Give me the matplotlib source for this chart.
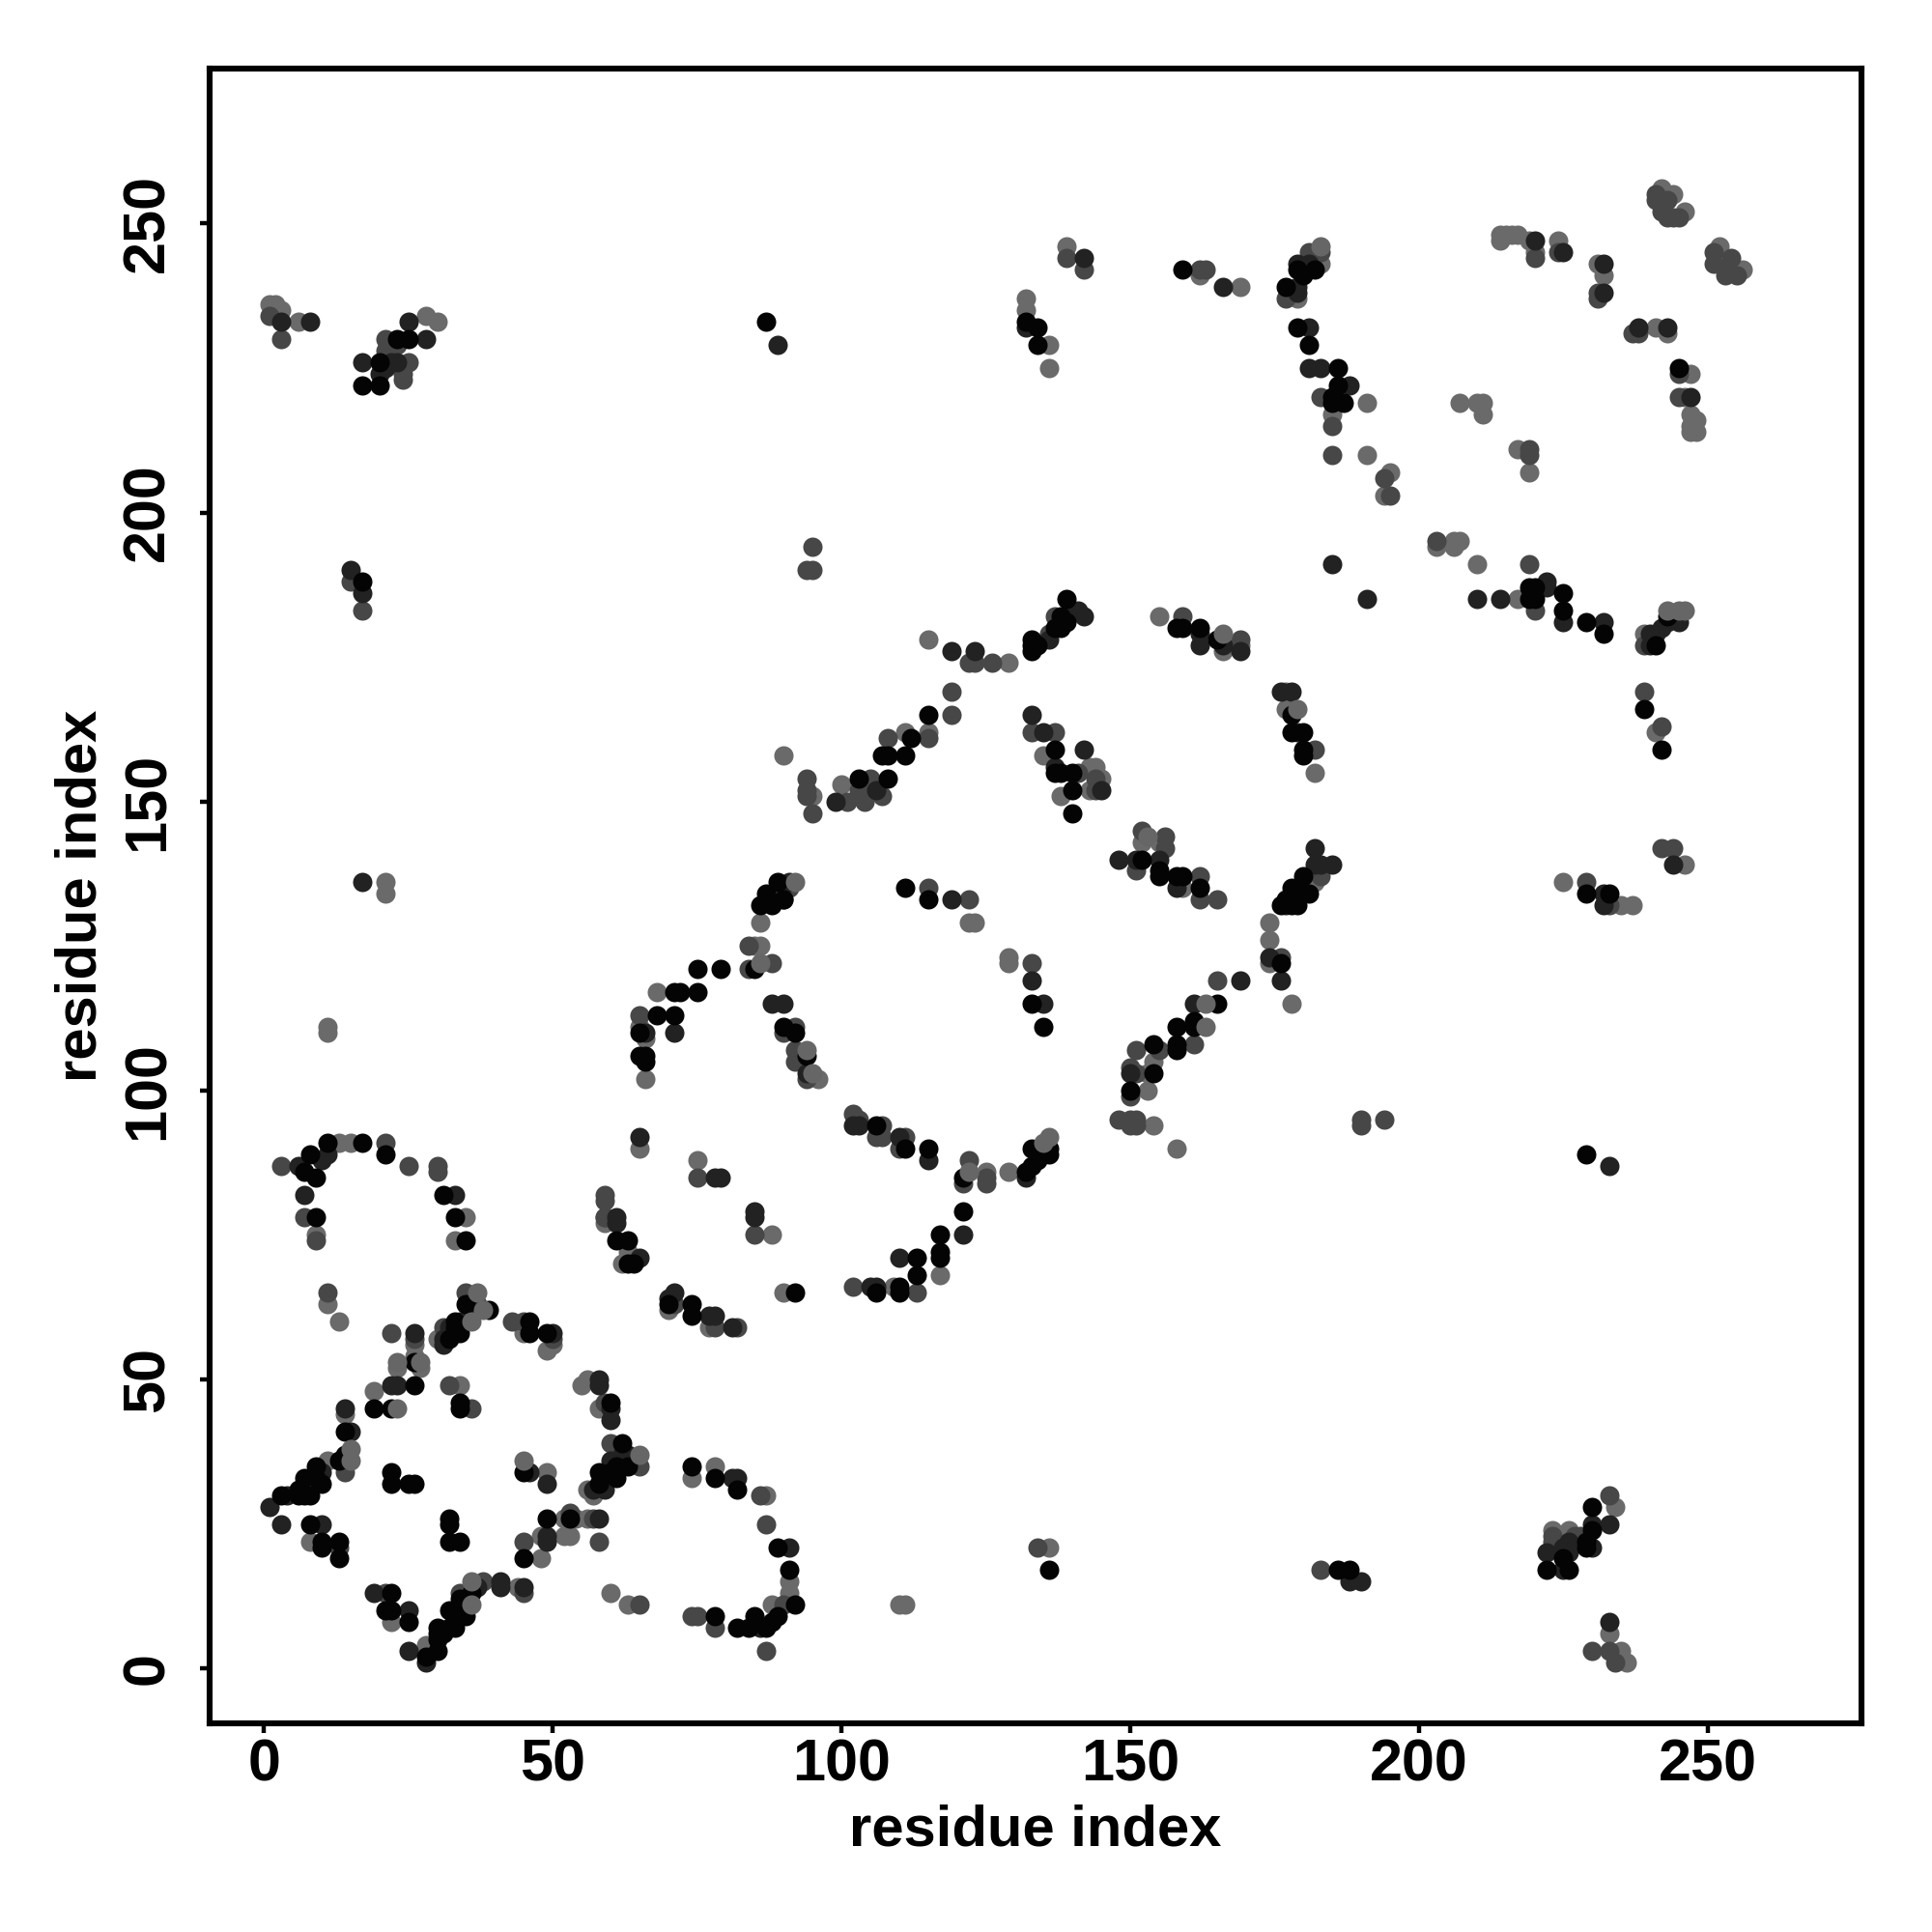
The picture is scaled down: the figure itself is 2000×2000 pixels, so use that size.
import numpy as np
import matplotlib
matplotlib.use('Agg')
import matplotlib.pyplot as plt

# contact pairs (residue i, residue j), grouped by how dark the dot is
light_pts = [(9,75),(35,78),(33,74),(59,77),(63,72),(62,70),(11,63),(13,60),(26,56),(26,54),(23,52),(27,52),(30,57),
    (45,58),(50,56),(49,55),(55,49),(56,50),(58,45),(57,30),(56,31),(11,36),(14,44),(19,48),(34,49),(49,34),(52,26),
    (54,26),(56,26),(48,23),(52,23),(53,23),(48,19),(8,22),(22,8),(28,4),(44,14),(60,13),(63,11),
    (86,129),(85,125),(86,125),(68,117),(65,111),(66,109),(66,102),(96,102),(122,129),(123,129),(129,123),(129,122),
    (65,90),(75,88),(88,75),(70,62),(77,59),(90,65),(109,66),(117,68),(125,86),(129,86),
    (155,182),(166,176),(169,177),(177,169),(177,166),(144,156),(143,152),(152,143),(155,143),(159,135),(174,129),
    (174,126),(174,122),(178,115),(182,155),(182,136),(153,103),(153,100),(154,94),(158,90),(154,105),
    (90,158),(100,153),(111,162),(115,162),(115,178),(129,174),(135,158),(138,151),(143,156),(145,154),(95,151),
    (179,237),(183,243),(185,217),(191,219),(191,210),(207,219),(210,219),(211,219),(211,217),(194,203),(195,207),
    (217,211),(219,207),(203,194),(206,195),(207,195),(206,194),(210,191),(217,185),(239,179),(214,248),(215,248),
    (214,247),(216,248),(217,248),(219,247),(220,245),(224,247),(231,243),(232,241),(241,232),(243,231),(247,224),
    (246,220),(247,217),(248,216),(247,215),(248,214),(247,214),(252,246),(242,256),(243,255),(244,255),(246,252),(256,242),
    (1,236),(2,236),(3,235),(6,233),(28,234),(30,233),(21,136),(21,134),(11,111),(11,110),(13,91),(15,91),(225,136),
    (235,132),(237,132),(246,139),(241,162),(162,241),(169,239),(139,246),(132,237),(132,235),(136,229),(136,225),
    (223,24),(226,24),(234,28),(233,6),(235,3),(236,1),(136,21),(110,11),(111,11),(74,33),(78,35),(87,30),(91,15),(91,13),(88,11)]

mid_pts = [(7,78),(9,74),(59,78),(11,65),(22,58),(26,57),(31,59),(35,65),(37,63),(43,60),(45,60),(50,57),(59,46),(60,39),
    (65,35),(14,34),(32,49),(36,45),(58,22),(53,27),(57,26),(45,22),(21,13),(45,13),(34,13),(33,9),(38,15),(13,21),(65,11),
    (89,133),(91,135),(84,125),(84,121),(65,113),(92,111),(90,110),(92,107),(92,105),(94,102),(115,135),(122,133),(133,122),
    (75,85),(59,82),(59,81),(59,78),(85,75),(71,63),(78,59),(82,59),(102,66),(113,65),(102,96),(103,95),(107,94),(106,92),
    (107,92),(111,92),(110,90),(122,88),(121,84),(125,85),(125,84),(135,89),(88,122),
    (159,182),(169,178),(152,145),(156,144),(156,142),(151,138),(162,137),(162,133),(165,133),(183,138),(183,137),(182,159),
    (176,123),(165,119),(161,108),(151,107),(155,107),(150,104),(151,103),(150,99),(148,95),(150,95),(151,95),(150,94),(151,94),
    (136,179),(137,182),(133,162),(137,162),(94,154),(94,151),(95,148),(101,150),(104,150),(105,154),(107,151),(108,161),
    (115,161),(119,165),(119,169),(122,174),(123,174),(126,174),(141,155),(144,152),(144,154),(103,152),(94,152),
    (183,245),(181,245),(177,237),(183,220),(185,215),(185,210),(194,206),(195,203),(219,210),(219,211),(203,195),(219,191),
    (220,183),(239,177),(241,255),(241,254),(243,254),(243,251),(244,251),(245,251),(242,252),(251,245),(251,243),(254,244),
    (253,242),(253,241),(255,241),(220,244),(224,245),(231,238),(231,237),(237,231),(238,231),(245,224),(245,220),
    (1,234),(3,230),(21,230),(21,227),(23,229),(24,223),(21,228),(22,229),(25,226),(24,224),(15,188),(17,183),(3,87),(21,91),
    (25,87),(30,87),(30,86),(190,95),(190,94),(194,95),(229,136),(233,132),(242,142),(244,142),(239,169),(242,163),(162,242),
    (163,242),(139,244),(142,242),(95,194),(94,190),(95,190),(223,23),(228,23),(223,22),(227,23),(233,30),(230,3),(233,3),(234,1),
    (183,17),(134,21),(86,30),(87,25),(87,3),(90,11),(78,7),(74,9),(75,9)]

dark_pts = [(61,78),(61,77),(65,71),(26,58),(31,57),(31,56),(32,59),(36,63),(34,60),(50,58),(58,50),(58,49),(60,43),(60,45),
    (63,37),(62,37),(60,36),(59,33),(59,31),(57,31),(1,28),(4,30),(3,25),(10,34),(15,41),(14,45),(22,49),(23,49),(46,34),
    (58,26),(49,23),(49,22),(10,25),(19,13),(25,10),(25,3),(28,1),(41,15),(41,14),(45,14),(37,14),(49,32),
    (91,136),(90,133),(71,110),(66,110),(88,115),(90,115),(94,103),(119,133),(133,119),(135,115),(65,92),(78,85),(79,85),
    (85,79),(85,78),(71,65),(70,64),(77,61),(78,61),(81,59),(105,66),(106,66),(110,71),(121,75),(102,94),(103,94),(110,92),
    (115,88),(132,85),
    (162,179),(162,177),(166,177),(169,176),(176,169),(178,169),(179,162),(142,159),(145,152),(148,140),(151,140),(155,140),
    (158,135),(182,142),(185,139),(183,139),(182,139),(178,133),(177,132),(174,123),(176,119),(169,119),(161,115),(150,103),
    (133,165),(135,162),(136,178),(140,183),(141,183),(142,182),(137,156),(99,150),(119,176),(123,176),(106,152),
    (181,243),(179,243),(179,239),(179,238),(181,232),(181,225),(183,225),(188,222),(185,191),(191,185),(210,185),(214,185),
    (222,188),(222,187),(225,181),(232,181),(240,179),(241,179),(240,177),(242,180),(243,181),(245,181),(220,247),(225,245),
    (232,243),(232,238),(238,232),(243,232),(247,220),
    (17,226),(23,226),(28,230),(25,233),(3,233),(8,233),(20,224),(21,225),(22,226),(15,190),(17,186),(17,136),(6,87),(10,88),
    (11,89),(33,82),(233,87),(232,134),(232,132),(244,139),(166,239),(142,244),(132,232),(89,229),(222,20),(225,17),(226,20),
    (225,21),(226,22),(230,25),(230,21),(233,25),(233,8),(188,15),(190,15),(81,33),(82,33),(86,7),(91,21),(7,82)]

black_pts = [(9,78),(33,78),(35,74),(61,74),(63,74),(63,70),(64,70),(26,53),(32,57),(33,60),(33,59),(34,58),(35,63),(39,62),
    (46,60),(46,58),(49,58),(60,46),(62,39),(63,35),(61,35),(60,34),(61,33),(58,34),(58,32),(3,30),(6,30),(7,30),(8,30),(7,33),
    (6,31),(9,35),(9,33),(10,32),(13,36),(14,37),(14,41),(19,45),(26,49),(22,45),(34,46),(34,45),(22,34),(22,32),(25,32),(26,32),
    (45,34),(49,26),(53,26),(45,19),(32,26),(32,25),(32,22),(34,22),(8,25),(10,22),(10,21),(13,22),(13,19),(22,13),(21,10),(22,10),
    (25,8),(28,2),(30,3),(30,5),(30,7),(30,6),(31,6),(32,7),(32,10),(33,7),(35,9),(34,10),(34,12),(36,13),
    (89,136),(90,133),(87,134),(86,132),(88,132),(85,121),(75,121),(79,121),(71,117),(72,117),(75,117),(68,113),(71,113),(65,110),
    (65,106),(66,106),(66,105),(90,111),(92,110),(94,106),(111,135),(115,133),(133,115),(135,111),(74,63),(74,61),(70,63),(92,65),
    (106,65),(110,66),(110,65),(113,71),(113,68),(117,75),(117,72),(117,71),(121,79),(106,94),(111,90),(115,90),(121,85),(132,86),
    (133,87),(133,90),(134,88),(136,90),(136,89),
    (158,180),(159,180),(162,180),(165,178),(178,165),(178,162),(180,162),(180,159),(180,158),(140,152),(138,155),(152,140),(155,138),
    (155,137),(158,137),(159,137),(162,135),(180,137),(179,135),(181,134),(178,135),(179,132),(177,133),(176,132),(178,132),(180,134),
    (176,122),(165,115),(161,112),(158,111),(161,111),(158,108),(158,107),(154,108),(154,103),(150,100),
    (133,178),(133,177),(133,176),(134,177),(137,180),(138,180),(138,182),(139,181),(139,185),(137,159),(137,155),(140,155),(140,148),
    (103,154),(108,154),(107,158),(108,158),(111,158),(112,161),(115,165),
    (182,242),(179,242),(180,241),(177,239),(179,232),(181,229),(186,225),(186,222),(185,220),(185,219),(187,219),(219,187),(219,185),
    (220,187),(220,185),(225,186),(225,183),(229,181),(232,179),(241,177),(243,182),(245,225),
    (17,222),(20,226),(20,222),(25,230),(23,230),(17,188),(8,89),(7,86),(9,85),(11,91),(17,91),(21,89),(31,82),(229,89),(229,134),
    (233,134),(239,166),(242,159),(159,242),(132,233),(134,232),(134,229),(87,233),(222,17),(226,17),(225,19),(229,21),(229,22),
    (230,28),(230,24),(186,17),(188,17),(136,17),(74,35),(78,33),(82,31),(89,21),(91,17),(92,11),(89,9),(85,9),(88,8),(87,7),(82,7),
    (84,7),(78,9)]

# lighter dots that sit on top of the dark clumps
top_pts = [(15,38),(15,36),(37,65),(36,60),(36,11),(36,15),(23,53),(23,45),(45,36),(38,62),(65,37),(27,53),(92,136),(86,122),
    (95,103),(94,107),(166,179),(153,144),(179,166),(163,111),(163,115),(136,92),(135,91),(122,86),(183,246),(245,183),(246,183),(243,183)]

groups = [(light_pts, '#6a6a6a'), (mid_pts, '#474747'), (dark_pts, '#222222'), (black_pts, '#040404'), (top_pts, '#666666')]
ticks = [0, 50, 100, 150, 200, 250]

plt.rcParams['font.family'] = ['Liberation Sans', 'DejaVu Sans']
plt.rcParams['font.weight'] = 'bold'

fig = plt.figure(figsize=(10, 10), dpi=200)
ax = fig.add_axes([217/2000, 1 - 1784/2000, (1927-217)/2000, (1784-71)/2000])

for pts, col in groups:
    arr = np.array(pts)
    ax.scatter(arr[:, 0], arr[:, 1], s=52, c=col, linewidths=0, zorder=3)

ax.set_xlim(-9.4, 276.6)
ax.set_ylim(-9.5, 276.8)
ax.set_xticks(ticks)
ax.set_yticks(ticks)
ax.tick_params(axis='both', length=3.5, width=1.6, labelsize=22, pad=2)
ax.tick_params(axis='y', labelrotation=90, pad=9)
for lab in ax.get_yticklabels():
    lab.set_va('center')
for side in ax.spines.values():
    side.set_linewidth(2.2)

ax.set_xlabel('residue index', fontsize=21.5, fontweight='bold', labelpad=4)
ax.set_ylabel('residue index', fontsize=21.5, fontweight='bold', labelpad=5)

plt.savefig('out.png', dpi=200)
